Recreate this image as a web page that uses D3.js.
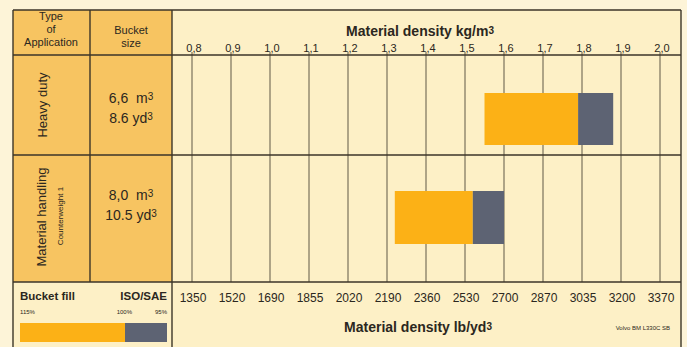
<!DOCTYPE html>
<html><head><meta charset="utf-8">
<script src="https://cdn.jsdelivr.net/npm/d3@7"></script>
<style>
html,body{margin:0;padding:0;background:#fdf4d8;}
svg{display:block;font-family:"Liberation Sans",Arial,sans-serif;}
</style></head>
<body>
<svg id="chart" width="687" height="347"></svg>
<script>
// ---- data ----
const applications = ["Heavy duty", "Material handling"];
const appSubtitles = ["", "Counterweight 1"];
const bucketM3 = ["6,6", "8,0"];
const bucketYd3 = ["8.6", "10.5"];
// densities (t/m3) at 115%, 100% and 95% bucket fill
const fill115 = [1.55, 1.32];
const fill100 = [1.79, 1.52];
const fill95 = [1.88, 1.60];
const kgTicks = [0.8, 0.9, 1.0, 1.1, 1.2, 1.3, 1.4, 1.5, 1.6, 1.7, 1.8, 1.9, 2.0];
const kgTickLabels = ["0,8","0,9","1,0","1,1","1,2","1,3","1,4","1,5","1,6","1,7","1,8","1,9","2,0"];
const lbTickLabels = ["1350","1520","1690","1855","2020","2190","2360","2530","2700","2870","3035","3200","3370"];

// ---- layout ----
const svg = d3.select("#chart");
const L = 13, C1 = 90, C2 = 172, R = 681, T = 10, H1 = 55, B = 282, BOT = 352;
const rowBounds = [[H1, 155], [155, B]];
const barPad = [[38, 10], [36, 38]];
const textCenter = [108, 205];
const ORANGE = "#fcb116", GRAY = "#5d6373", CELL = "#f7c461", CREAM = "#fdf0c6", INK = "#2b2720", LINE = "#3b3528";

const x = d3.scaleLinear().domain([0.8, 2.0]).range([192, 660]);

// backgrounds
svg.append("rect").attr("x", L).attr("y", T).attr("width", R - L).attr("height", BOT - T).attr("fill", CREAM);
svg.append("rect").attr("x", L).attr("y", T).attr("width", C2 - L).attr("height", B - T).attr("fill", CELL);

// grid lines (chart body)
svg.append("g").selectAll("line").data(kgTicks).join("line")
  .attr("x1", d => x(d)).attr("x2", d => x(d))
  .attr("y1", H1 - 3).attr("y2", B)
  .attr("stroke", "#6d6652").attr("stroke-width", 1.1);

// bars
const g = svg.append("g");
applications.forEach((a, i) => {
  const y0 = rowBounds[i][0] + barPad[i][0], y1 = rowBounds[i][1] - barPad[i][1];
  g.append("rect").attr("x", x(fill115[i])).attr("y", y0)
    .attr("width", x(fill100[i]) - x(fill115[i])).attr("height", y1 - y0).attr("fill", ORANGE);
  g.append("rect").attr("x", x(fill100[i])).attr("y", y0)
    .attr("width", x(fill95[i]) - x(fill100[i])).attr("height", y1 - y0).attr("fill", GRAY);
});

// frame lines
const lines = [
  [L, T, R, T], [L, T, L, BOT], [R, T, R, BOT],
  [C1, T, C1, B], [C2, T, C2, BOT],
  [L, H1, R, H1], [L, 155, R, 155], [L, B, R, B]
];
svg.append("g").selectAll("line").data(lines).join("line")
  .attr("x1", d => d[0]).attr("y1", d => d[1]).attr("x2", d => d[2]).attr("y2", d => d[3])
  .attr("stroke", LINE).attr("stroke-width", 1.4);

// header texts
const hdr = svg.append("g").attr("fill", INK).attr("font-size", 11).attr("text-anchor", "middle");
["Type", "of", "Application"].forEach((t, i) => hdr.append("text").attr("x", 51).attr("y", 20 + i * 13).text(t));
["Bucket", "size"].forEach((t, i) => hdr.append("text").attr("x", 131).attr("y", 34 + i * 13).text(t));

const title1 = svg.append("text").attr("x", 420).attr("y", 36).attr("text-anchor", "middle")
  .attr("font-size", 14).attr("font-weight", "bold").attr("fill", INK);
title1.append("tspan").text("Material density kg/m");
title1.append("tspan").attr("font-size", 10).attr("dy", -2).text("3");

svg.append("g").selectAll("text").data(kgTicks).join("text")
  .attr("x", d => x(d) + 2).attr("y", 52).attr("text-anchor", "middle")
  .attr("font-size", 11).attr("fill", INK).text((d, i) => kgTickLabels[i]);

// row labels
applications.forEach((a, i) => {
  svg.append("text").attr("transform", `translate(${i ? 46 : 47},${i ? 217 : 105}) rotate(-90)`)
    .attr("text-anchor", "middle").attr("font-size", 13).attr("fill", INK).text(a);
  if (appSubtitles[i]) {
    svg.append("text").attr("transform", `translate(63,216) rotate(-90)`)
      .attr("text-anchor", "middle").attr("font-size", 8).attr("fill", INK).text(appSubtitles[i]);
  }
  const t1 = svg.append("text").attr("x", 131).attr("y", textCenter[i] - 5).attr("text-anchor", "middle")
    .attr("font-size", 14).attr("fill", INK);
  t1.append("tspan").text(bucketM3[i] + "\u00a0\u00a0m");
  t1.append("tspan").attr("font-size", 10).attr("dy", -3).text("3");
  const t2 = svg.append("text").attr("x", 131).attr("y", textCenter[i] + 15).attr("text-anchor", "middle")
    .attr("font-size", 14).attr("fill", INK);
  t2.append("tspan").text(bucketYd3[i] + " yd");
  t2.append("tspan").attr("font-size", 10).attr("dy", -3).text("3");
});

// bottom axis labels
svg.append("g").selectAll("text").data(kgTicks).join("text")
  .attr("x", d => x(d) + 1).attr("y", 302).attr("text-anchor", "middle")
  .attr("font-size", 12).attr("fill", INK).text((d, i) => lbTickLabels[i]);

const title2 = svg.append("text").attr("x", 418).attr("y", 332).attr("text-anchor", "middle")
  .attr("font-size", 14).attr("font-weight", "bold").attr("fill", INK);
title2.append("tspan").text("Material density lb/yd");
title2.append("tspan").attr("font-size", 10).attr("dy", -2).text("3");

svg.append("text").attr("x", 670).attr("y", 330).attr("text-anchor", "end")
  .attr("font-size", 6).attr("fill", INK).text("Volvo BM L330C SB");

// bucket fill legend
svg.append("text").attr("x", 20).attr("y", 300).attr("font-size", 11.5).attr("font-weight", "bold").attr("fill", INK).text("Bucket fill");
svg.append("text").attr("x", 167).attr("y", 300).attr("text-anchor", "end").attr("font-size", 11.5).attr("font-weight", "bold").attr("fill", INK).text("ISO/SAE");
svg.append("text").attr("x", 20).attr("y", 314).attr("font-size", 6).attr("fill", INK).text("115%");
svg.append("text").attr("x", 132).attr("y", 314).attr("text-anchor", "end").attr("font-size", 6).attr("fill", INK).text("100%");
svg.append("text").attr("x", 167).attr("y", 314).attr("text-anchor", "end").attr("font-size", 6).attr("fill", INK).text("95%");
svg.append("rect").attr("x", 20).attr("y", 323).attr("width", 105).attr("height", 19).attr("fill", ORANGE);
svg.append("rect").attr("x", 125).attr("y", 323).attr("width", 42).attr("height", 19).attr("fill", GRAY);
</script>
</body></html>
